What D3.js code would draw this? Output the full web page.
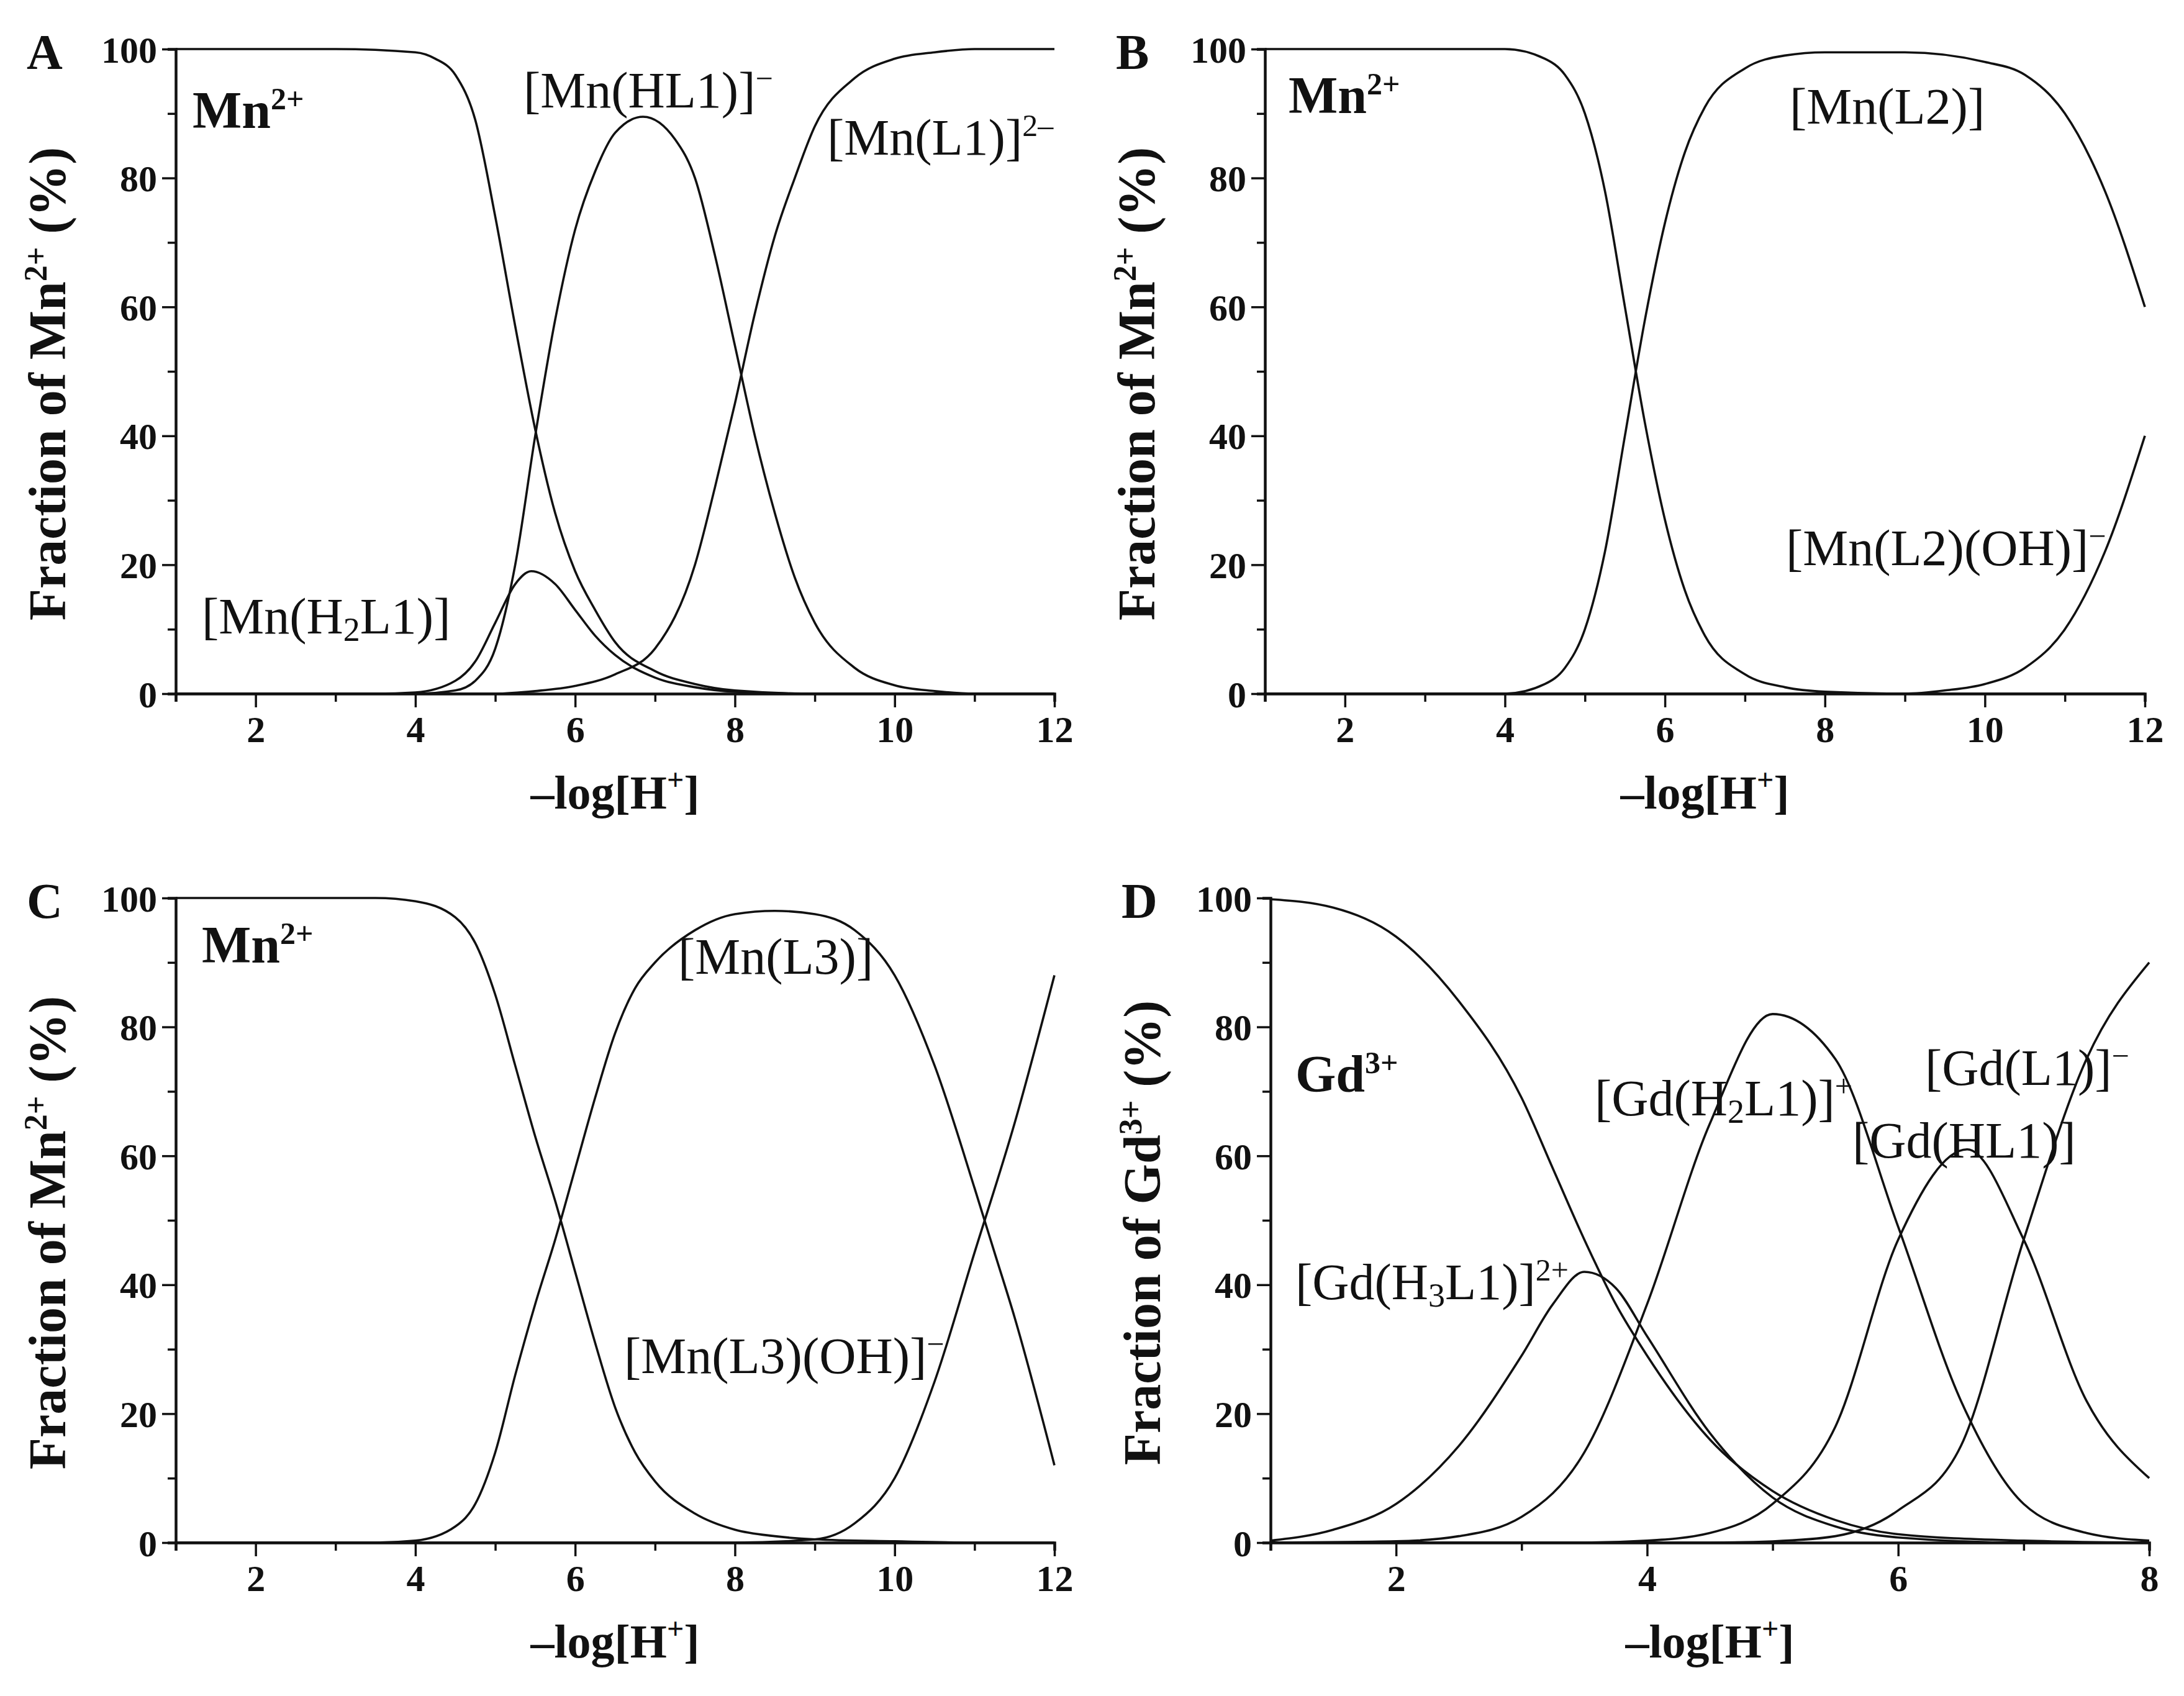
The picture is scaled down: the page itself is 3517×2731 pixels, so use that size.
<!DOCTYPE html>
<html><head><meta charset="utf-8">
<script src="https://cdn.jsdelivr.net/npm/d3@7"></script>
<style>body{margin:0;background:#fff}svg{display:block}text{font-family:"Liberation Serif","DejaVu Serif",serif;fill:#111}</style>
</head><body>
<script>
// ---- data ----
const xTicksMn = [2,4,6,8,10,12];
const xTicksGd = [2,4,6,8];
const yTicks = [0,20,40,60,80,100];

const A_Mn = [[1,100],[3,100],[4,99.5],[4.25,98.5],[4.5,96],[4.75,89],[5,74],[5.25,57],[5.5,41],[5.75,28],[6,19],[6.25,13],[6.5,8],[7,3.5],[7.5,1.5],[8,0.5],[9,0],[12,0]];
const A_H2L1 = [[1,0],[3.5,0],[4,0.2],[4.5,2],[4.75,5],[5,11],[5.25,17],[5.45,19],[5.75,17],[6,13],[6.25,9],[6.5,6],[7,2.5],[7.5,1],[8,0.3],[9,0],[12,0]];
const A_HL1 = [[1,0],[4,0],[4.5,0.5],[4.75,2],[5,7],[5.25,20],[5.5,40],[5.75,58],[6,72],[6.25,81],[6.5,87],[6.85,89.5],[7.25,86],[7.5,80],[7.75,68],[8,54],[8.25,40],[8.5,28],[8.75,18],[9,11],[9.5,4],[10,1.3],[10.5,0.4],[11,0],[12,0]];
const A_L1 = [[1,0],[5,0],[5.5,0.4],[6,1.2],[6.5,3],[7,7],[7.5,20],[7.75,32],[8,45],[8.25,59],[8.5,71],[8.75,80],[9,88],[9.5,95.5],[10,98.5],[10.5,99.5],[11,100],[12,100]];

const B_Mn = [[1,100],[4,100],[4.5,98.5],[4.75,96],[5,90],[5.25,78],[5.5,60],[5.75,42],[6,27],[6.25,16],[6.5,9],[7,3],[7.5,1],[8,0.3],[9,0],[12,0]];
const B_L2 = [[1,0],[4,0],[4.5,1.5],[4.75,4],[5,10],[5.25,22],[5.5,40],[5.75,58],[6,73],[6.25,84],[6.5,91],[7,97],[7.5,99],[8,99.5],[9,99.5],[10,98],[10.5,96],[11,90],[11.5,78],[12,60]];
const B_OH = [[1,0],[9,0],[9.5,0.5],[10,1.5],[10.5,4],[11,10],[11.5,22],[12,40]];

const C_Mn = [[1,100],[3.5,100],[4,99.5],[4.5,97],[4.75,93],[5,85],[5.25,74],[5.5,63],[5.75,53],[6,42],[6.25,31],[6.5,21],[6.75,14],[7,9.5],[7.5,4.5],[8,2],[8.5,1],[9,0.5],[10,0.2],[11,0],[12,0]];
const C_L3 = [[1,0],[3.5,0],[4,0.3],[4.5,2.5],[4.75,6],[5,14],[5.25,26],[5.5,37],[5.75,47],[6,58],[6.25,69],[6.5,79],[6.75,86],[7,90],[7.5,95],[8,97.5],[8.5,98],[9,97.5],[9.5,95],[10,88],[10.5,74],[11,55],[11.25,45],[11.5,35],[12,12]];
const C_OH = [[1,0],[8,0],[9,0.5],[9.5,3],[10,10],[10.5,25],[11,45],[11.5,65],[12,88]];

const D_Gd = [[1,99.8],[1.5,98.5],[2,94],[2.5,84],[3,69],[3.25,58],[3.5,47],[3.75,37],[4,29],[4.5,16],[5,8],[5.5,3.5],[6,1.3],[7,0.3],[8,0]];
const D_H3L1 = [[1,0.3],[1.5,2],[2,6],[2.5,15],[3,29],[3.25,37],[3.5,42],[3.75,39.5],[4,32],[4.5,17],[5,7],[5.5,2.5],[6,0.8],[7,0],[8,0]];
const D_H2L1 = [[1,0],[2,0.2],[2.5,1],[3,4],[3.5,14],[4,37],[4.5,65],[5,82],[5.5,75],[6,49],[6.5,22],[7,6],[7.5,1.5],[8,0.3]];
const D_HL1 = [[1,0],[3.5,0],[4,0.3],[4.5,1.5],[5,6],[5.5,18],[6,47],[6.55,61],[7,47],[7.5,22],[8,10]];
const D_L1 = [[1,0],[4.5,0],[5,0.2],[5.5,1],[6,5],[6.5,15],[7,47],[7.5,75],[8,90]];

const W=3517,H=2731;
const svg=d3.select("body").append("svg").attr("width",W).attr("height",H);

function panel(o){
  const g=svg.append("g");
  const x=d3.scaleLinear().domain([1,o.xmax]).range([o.l,o.r]);
  const y=d3.scaleLinear().domain([0,100]).range([o.b,o.t]);
  const line=d3.line().x(d=>x(d[0])).y(d=>y(d[1])).curve(d3.curveMonotoneX);
  o.series.forEach(s=>g.append("path").attr("d",line(s)).attr("fill","none").attr("stroke","#111").attr("stroke-width",3.6));
  const minorX=d3.range(1,o.xmax+0.01,1);
  const xa=g.append("g").attr("transform",`translate(0,${o.b})`).call(d3.axisBottom(x).tickValues(minorX).tickSize(13).tickFormat(d=>o.xt.includes(d)?d:""));
  const ya=g.append("g").attr("transform",`translate(${o.l},0)`).call(d3.axisLeft(y).tickValues(d3.range(0,101,10)).tickSize(13).tickFormat(d=>yTicks.includes(d)?d:""));
  [xa,ya].forEach(a=>{a.select(".domain").attr("stroke","#111").attr("stroke-width",4.5);a.selectAll(".tick line").attr("stroke","#111").attr("stroke-width",3.5);
    a.selectAll("text").attr("font-size",60).attr("font-weight","bold").attr("font-family","Liberation Serif");});
  xa.selectAll(".tick").filter(d=>o.xt.includes(d)).select("line").attr("y2",22);
  xa.selectAll("text").attr("dy",0).attr("y",78);
  ya.selectAll(".tick").filter(d=>yTicks.includes(d)).select("line").attr("x2",-22);
  ya.selectAll("text").attr("x",-30).attr("dy","0.35em");
  g.append("text").attr("x",(o.l+o.r)/2).attr("y",o.b+185).attr("text-anchor","middle").attr("font-size",76).attr("font-weight","bold")
    .html('–log[H<tspan dy="-30" font-size="48">+</tspan><tspan dy="30">]</tspan>');
  g.append("text").attr("transform",`translate(${o.l-178},${(o.t+o.b)/2+20}) rotate(-90)`).attr("text-anchor","middle").attr("font-size",84).attr("font-weight","bold")
    .html(`Fraction of ${o.ion}<tspan dy="-30" font-size="52">${o.chg}</tspan><tspan dy="30"> (%)</tspan>`);
  g.append("text").attr("x",o.l-240).attr("y",o.t+32).attr("font-size",80).attr("font-weight","bold").text(o.letter);
  o.labels.forEach(L=>g.append("text").attr("x",L[0]).attr("y",L[1]).attr("font-size",L[3]?84:82).attr("font-weight",L[3]?"bold":"normal").html(L[2]));
}
const sup=s=>`<tspan dy="-30" font-size="50">${s}</tspan>`;
const sub=(s,rest)=>`<tspan dy="12" font-size="54">${s}</tspan><tspan dy="-12">${rest}</tspan>`;

panel({l:283,r:1698,t:79,b:1117,xmax:12,xt:xTicksMn,ion:"Mn",chg:"2+",letter:"A",series:[A_Mn,A_H2L1,A_HL1,A_L1],
  labels:[[310,206,"Mn"+sup("2+"),1],[843,173,"[Mn(HL1)]"+sup("−")],[1332,249,"[Mn(L1)]"+sup("2–")],[325,1020,"[Mn(H"+sub("2","L1)]")]]});
panel({l:2037,r:3454,t:79,b:1117,xmax:12,xt:xTicksMn,ion:"Mn",chg:"2+",letter:"B",series:[B_Mn,B_L2,B_OH],
  labels:[[2075,182,"Mn"+sup("2+"),1],[2882,199,"[Mn(L2)]"],[2876,910,"[Mn(L2)(OH)]"+sup("−")]]});
panel({l:283,r:1698,t:1446,b:2484,xmax:12,xt:xTicksMn,ion:"Mn",chg:"2+",letter:"C",series:[C_Mn,C_L3,C_OH],
  labels:[[325,1550,"Mn"+sup("2+"),1],[1092,1568,"[Mn(L3)]"],[1005,2211,"[Mn(L3)(OH)]"+sup("−")]]});
panel({l:2046,r:3461,t:1446,b:2484,xmax:8,xt:xTicksGd,ion:"Gd",chg:"3+",letter:"D",series:[D_Gd,D_H3L1,D_H2L1,D_HL1,D_L1],
  labels:[[2086,1758,"Gd"+sup("3+"),1],[2568,1796,"[Gd(H"+sub("2","L1)]")+sup("+")],[3100,1747,"[Gd(L1)]"+sup("−")],[2983,1864,"[Gd(HL1)]"],[2086,2092,"[Gd(H"+sub("3","L1)]")+sup("2+")]]});
</script></body></html>
